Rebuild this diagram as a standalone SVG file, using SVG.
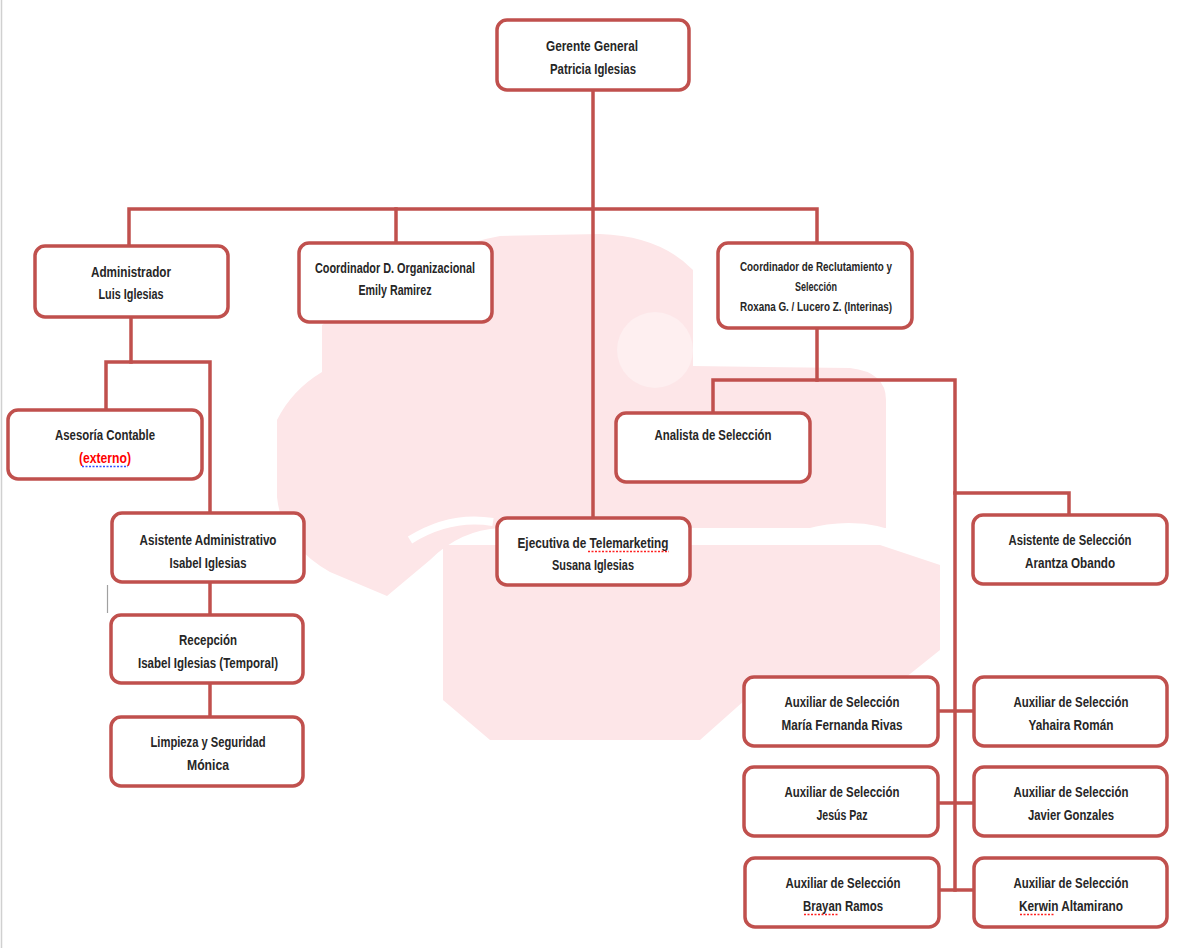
<svg xmlns="http://www.w3.org/2000/svg" width="1179" height="948" viewBox="0 0 1179 948">
<style>
.box{fill:#ffffff;stroke:#C0504D;stroke-width:3.5}
.ln{fill:none;stroke:#C0504D;stroke-width:3.5;stroke-linecap:square}
.t{font-family:"Liberation Sans",Arial,sans-serif;font-size:15px;font-weight:bold;fill:#262626;text-anchor:middle}
.s{font-size:12.5px}
.red{fill:#ff0000}
.wm{fill:#FDE6E8;stroke:none}
.sq{fill:none;stroke-width:1.3;stroke-dasharray:2 1.5}
</style>
<rect width="1179" height="948" fill="#ffffff"/>
<g id="watermark">
<path class="wm" d="M322,325 L322,372 Q292,390 277,420 L277,497 Q282,545 330,572 L387,596 L430,560 Q460,530 500,528 L886,528 L886,400 Q886,372 850,368 L693,366 L693,270 Q660,236 600,234 L500,236 Q420,250 322,325 Z"/>
<path class="wm" d="M443,560 L443,700 L490,740 L700,740 L745,700 L745,690 L890,690 L940,650 L940,565 L880,545 L443,545 Z"/>
<circle cx="655" cy="350" r="38" fill="#ffffff" opacity="0.35"/>
<path d="M410,540 Q450,515 493,522" fill="none" stroke="#ffffff" stroke-width="8"/>
<path d="M806,533 Q860,518 907,540" fill="none" stroke="#ffffff" stroke-width="8"/>
</g>
<g id="margins">
<line x1="1.5" y1="0" x2="1.5" y2="948" stroke="#d0d0d0" stroke-width="1.5"/>
<line x1="107.5" y1="585" x2="107.5" y2="613" stroke="#a0a0a0" stroke-width="1.2"/>
</g>
<g id="connectors">
<path class="ln" d="M593,90 V518"/>
<path class="ln" d="M129,245 V209 H817 V243"/>
<path class="ln" d="M396,209 V243"/>
<path class="ln" d="M131,317 V362"/>
<path class="ln" d="M106,410 V362 H210 V513"/>
<path class="ln" d="M210,582 V615"/>
<path class="ln" d="M210,683 V717"/>
<path class="ln" d="M817,328 V380"/>
<path class="ln" d="M713,413 V380 H955 V890"/>
<path class="ln" d="M955,493 H1069 V515"/>
<path class="ln" d="M938,711 H974"/>
<path class="ln" d="M938,803 H974"/>
<path class="ln" d="M939,890 H974"/>
</g>
<g id="gerente">
<rect class="box" x="497" y="20" width="192" height="70" rx="10"/>
<text class="t" x="592" y="51" textLength="92" lengthAdjust="spacingAndGlyphs">Gerente General</text>
<text class="t" x="593" y="74" textLength="86" lengthAdjust="spacingAndGlyphs">Patricia Iglesias</text>
</g>
<g id="administrador">
<rect class="box" x="35" y="246" width="193" height="71" rx="10"/>
<text class="t" x="131" y="277" textLength="80" lengthAdjust="spacingAndGlyphs">Administrador</text>
<text class="t" x="131" y="299" textLength="65" lengthAdjust="spacingAndGlyphs">Luis Iglesias</text>
</g>
<g id="coord-do">
<rect class="box" x="299" y="243" width="193" height="79" rx="10"/>
<text class="t" x="395" y="273" textLength="160" lengthAdjust="spacingAndGlyphs">Coordinador D. Organizacional</text>
<text class="t" x="395" y="295" textLength="73" lengthAdjust="spacingAndGlyphs">Emily Ramirez</text>
</g>
<g id="coord-rs">
<rect class="box" x="718" y="243" width="194" height="85" rx="10"/>
<text class="t s" x="816" y="271" textLength="152" lengthAdjust="spacingAndGlyphs">Coordinador de Reclutamiento y</text>
<text class="t s" x="816" y="291" textLength="42" lengthAdjust="spacingAndGlyphs">Selección</text>
<text class="t s" x="816" y="311" textLength="152" lengthAdjust="spacingAndGlyphs">Roxana G. / Lucero Z.  (Interinas)</text>
</g>
<g id="asesoria">
<rect class="box" x="8" y="410" width="194" height="69" rx="10"/>
<text class="t" x="105" y="440" textLength="100" lengthAdjust="spacingAndGlyphs">Asesoría Contable</text>
<text class="t red" x="105" y="463" textLength="52" lengthAdjust="spacingAndGlyphs">(externo)</text>
<line class="sq" x1="82" y1="466.5" x2="128" y2="466.5" stroke="#3050ff"/>
</g>
<g id="asistente-admin">
<rect class="box" x="112" y="513" width="192" height="69" rx="10"/>
<text class="t" x="208" y="545" textLength="137" lengthAdjust="spacingAndGlyphs">Asistente Administrativo</text>
<text class="t" x="208" y="568" textLength="77" lengthAdjust="spacingAndGlyphs">Isabel Iglesias</text>
</g>
<g id="recepcion">
<rect class="box" x="111" y="615" width="192" height="68" rx="10"/>
<text class="t" x="208" y="645" textLength="58" lengthAdjust="spacingAndGlyphs">Recepción</text>
<text class="t" x="208" y="668" textLength="140" lengthAdjust="spacingAndGlyphs">Isabel Iglesias (Temporal)</text>
</g>
<g id="limpieza">
<rect class="box" x="111" y="717" width="192" height="69" rx="10"/>
<text class="t" x="208" y="747" textLength="115" lengthAdjust="spacingAndGlyphs">Limpieza y Seguridad</text>
<text class="t" x="208" y="770" textLength="42" lengthAdjust="spacingAndGlyphs">Mónica</text>
</g>
<g id="analista">
<rect class="box" x="616" y="413" width="194" height="69" rx="10"/>
<text class="t" x="713" y="440" textLength="117" lengthAdjust="spacingAndGlyphs">Analista de Selección</text>
</g>
<g id="telemarketing">
<rect class="box" x="497" y="518" width="193" height="67" rx="10"/>
<text class="t" x="593" y="548" textLength="151" lengthAdjust="spacingAndGlyphs">Ejecutiva de Telemarketing</text>
<text class="t" x="593" y="570" textLength="82" lengthAdjust="spacingAndGlyphs">Susana Iglesias</text>
<line class="sq" x1="588" y1="551.5" x2="669" y2="551.5" stroke="#ff2020"/>
</g>
<g id="asistente-sel">
<rect class="box" x="973" y="515" width="194" height="69" rx="10"/>
<text class="t" x="1070" y="545" textLength="123" lengthAdjust="spacingAndGlyphs">Asistente de Selección</text>
<text class="t" x="1070" y="568" textLength="90" lengthAdjust="spacingAndGlyphs">Arantza Obando</text>
</g>
<g id="aux-maria">
<rect class="box" x="744" y="677" width="194" height="69" rx="10"/>
<text class="t" x="842" y="707" textLength="115" lengthAdjust="spacingAndGlyphs">Auxiliar de Selección</text>
<text class="t" x="842" y="730" textLength="121" lengthAdjust="spacingAndGlyphs">María Fernanda Rivas</text>
</g>
<g id="aux-yahaira">
<rect class="box" x="974" y="677" width="193" height="69" rx="10"/>
<text class="t" x="1071" y="707" textLength="115" lengthAdjust="spacingAndGlyphs">Auxiliar de Selección</text>
<text class="t" x="1071" y="730" textLength="85" lengthAdjust="spacingAndGlyphs">Yahaira Román</text>
</g>
<g id="aux-jesus">
<rect class="box" x="744" y="767" width="194" height="69" rx="10"/>
<text class="t" x="842" y="797" textLength="115" lengthAdjust="spacingAndGlyphs">Auxiliar de Selección</text>
<text class="t" x="842" y="820" textLength="51" lengthAdjust="spacingAndGlyphs">Jesús Paz</text>
</g>
<g id="aux-javier">
<rect class="box" x="974" y="767" width="193" height="69" rx="10"/>
<text class="t" x="1071" y="797" textLength="115" lengthAdjust="spacingAndGlyphs">Auxiliar de Selección</text>
<text class="t" x="1071" y="820" textLength="86" lengthAdjust="spacingAndGlyphs">Javier Gonzales</text>
</g>
<g id="aux-brayan">
<rect class="box" x="745" y="858" width="194" height="69" rx="10"/>
<text class="t" x="843" y="888" textLength="115" lengthAdjust="spacingAndGlyphs">Auxiliar de Selección</text>
<text class="t" x="843" y="911" textLength="80" lengthAdjust="spacingAndGlyphs">Brayan Ramos</text>
<line class="sq" x1="804" y1="914.5" x2="838" y2="914.5" stroke="#ff2020"/>
</g>
<g id="aux-kerwin">
<rect class="box" x="974" y="858" width="193" height="69" rx="10"/>
<text class="t" x="1071" y="888" textLength="115" lengthAdjust="spacingAndGlyphs">Auxiliar de Selección</text>
<text class="t" x="1071" y="911" textLength="104" lengthAdjust="spacingAndGlyphs">Kerwin Altamirano</text>
<line class="sq" x1="1020" y1="914.5" x2="1055" y2="914.5" stroke="#ff2020"/>
</g>
</svg>
